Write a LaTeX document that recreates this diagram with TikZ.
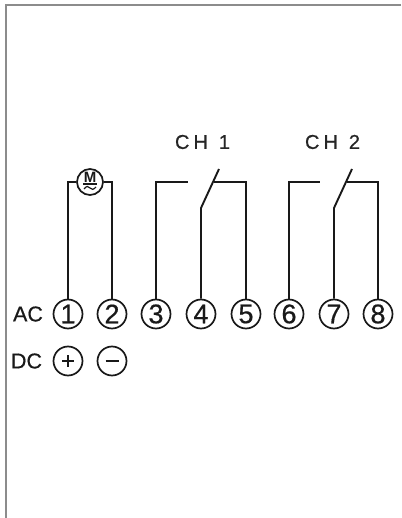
\documentclass[tikz,border=0pt]{standalone}
\usepackage{fontspec}
\setmainfont{Liberation Sans}
\newfontfamily\heavyfont[FakeBold=0.6]{Liberation Sans}
\begin{document}
\begin{tikzpicture}[x=1pt,y=-1pt,
  wire/.style={line width=1.9pt,draw=black!90,line join=miter},
  term/.style={circle,draw=black!90,line width=1.7pt,minimum size=29pt,inner sep=0pt,font=\heavyfont\fontsize{27}{27}\selectfont,text=black!90},
  lab/.style={inner sep=0pt,font=\heavyfont\fontsize{21.5}{22}\selectfont,text=black!90},
  chlab/.style={inner sep=0pt,font=\heavyfont\fontsize{20}{20}\selectfont,text=black!85}]
\useasboundingbox (0,0) rectangle (401,518);
\draw[line width=2pt,draw=black!45] (401,5.5) -- (6,5.5) -- (6,518);
\node[term] (t1) at (68,314) {1};
\node[term] (t2) at (112,314) {2};
\node[term] (t3) at (156,314) {3};
\node[term] (t4) at (201,314) {4};
\node[term] (t5) at (246,314) {5};
\node[term] (t6) at (289,314) {6};
\node[term] (t7) at (334,314) {7};
\node[term] (t8) at (378,314) {8};
\node[term] (plus) at (68,361) {};
\node[term] (minus) at (112,361) {};
\draw[line width=1.8pt,draw=black!90] (62,361) -- (74,361) (68,355) -- (68,367);
\draw[line width=2.4pt,draw=black!90] (105.5,361) -- (118.5,361);
\node[lab,anchor=center] (ac) at (28,314) {AC};
\node[lab,anchor=center] (dc) at (26.5,361) {DC};
\node[chlab] (ch1) at (202.5,142) {C\kern4ptH\kern11pt 1};
\node[chlab] (ch2) at (332.5,142) {C\kern4ptH\kern11pt 2};
\node[circle,draw=black!90,line width=1.7pt,minimum size=26pt,inner sep=0pt] (m) at (90,182) {};
\node[inner sep=0pt,font=\bfseries\fontsize{15}{15}\selectfont,text=black!90] (mm) at (90,177.5) {M};
\draw[line width=1.2pt,draw=black!90] (83,184) -- (97,184);
\draw[line width=1.2pt,draw=black!90] (84,189) .. controls (87,185.5) and (88,186) .. (90,188) .. controls (92,190) and (93,190) .. (96,187);
\draw[wire] (t1.north) |- (m.west);
\draw[wire] (t2.north) |- (m.east);
\coordinate (a3) at (188,182);
\draw[wire] (t3.north) |- (a3);
\coordinate (k4) at (201,208);
\coordinate (s4) at (219,169);
\coordinate (j5) at (214,182);
\draw[wire] (t4.north) -- (k4) -- (s4);
\draw[wire] (t5.north) |- (j5);
\coordinate (a6) at (320,182);
\draw[wire] (t6.north) |- (a6);
\coordinate (k7) at (334,208);
\coordinate (s7) at (352,169);
\coordinate (j8) at (347,182);
\draw[wire] (t7.north) -- (k7) -- (s7);
\draw[wire] (t8.north) |- (j8);
\end{tikzpicture}
\end{document}
